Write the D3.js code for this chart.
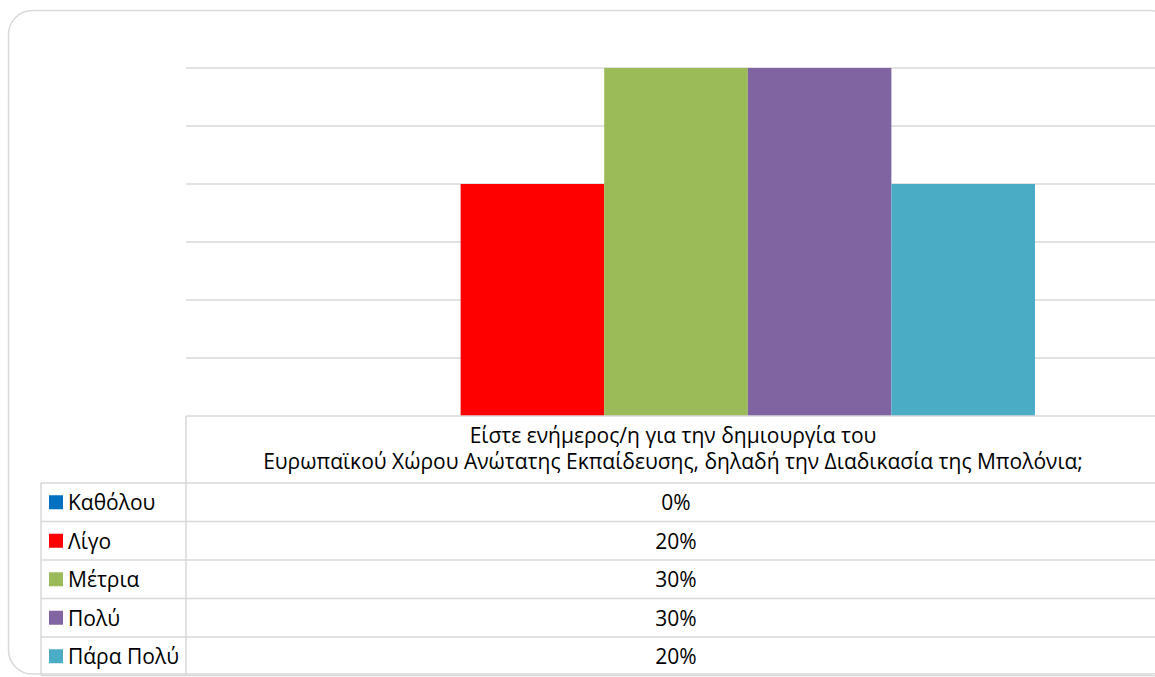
<!DOCTYPE html>
<html>
<head>
<meta charset="utf-8">
<script src="https://cdn.jsdelivr.net/npm/d3@7"></script>
<style>
  html, body { margin: 0; padding: 0; background: #fff; }
  svg { display: block; }
  text { font-family: "Open Sans", "Noto Sans", sans-serif; fill: #000; }
</style>
</head>
<body>
<svg id="chart" width="1155" height="677"></svg>
<script>
// Survey answers (one category, five response series)
const category = "Είστε ενήμερος/η για την δημιουργία του\nΕυρωπαϊκού Χώρου Ανώτατης Εκπαίδευσης, δηλαδή την Διαδικασία της Μπολόνια;";
const seriesNames = ["Καθόλου", "Λίγο", "Μέτρια", "Πολύ", "Πάρα Πολύ"];
const seriesValues = [0, 0.20, 0.30, 0.30, 0.20];
const seriesColors = ["#0070C0", "#FF0000", "#9BBB59", "#8064A2", "#4BACC6"];
const yTicks = [0.05, 0.10, 0.15, 0.20, 0.25, 0.30];

const svg = d3.select("#chart");
const lineColor = "#d9d9d9";
const fontSize = 21;

// outer rounded frame
svg.append("rect")
  .attr("x", 8.5).attr("y", 10.5)
  .attr("width", 1165).attr("height", 663.5)
  .attr("rx", 24).attr("ry", 24)
  .attr("fill", "#fff")
  .attr("stroke", lineColor).attr("stroke-width", 1.5);

const plotLeft = 186, plotRight = 1166, plotTop = 68, plotBottom = 416;
const legendLeft = 41;
const headerBottom = 483;
const rowH = 38.5;

const x0 = d3.scaleBand().domain([category]).range([plotLeft, plotRight])
  .paddingInner(0).paddingOuter(0.1825);
const x1 = d3.scaleBand().domain(seriesNames).range([0, x0.bandwidth()]);
const y = d3.scaleLinear().domain([0, 0.30]).range([plotBottom, plotTop]);

// horizontal gridlines
svg.append("g").selectAll("line").data(yTicks).join("line")
  .attr("x1", plotLeft).attr("x2", plotRight)
  .attr("y1", d => y(d)).attr("y2", d => y(d))
  .attr("stroke", lineColor).attr("stroke-width", 1.5);

// bars
svg.append("g").selectAll("rect").data(seriesNames).join("rect")
  .attr("x", (d) => x0(category) + x1(d))
  .attr("width", x1.bandwidth())
  .attr("y", (d, i) => y(seriesValues[i]))
  .attr("height", (d, i) => y(0) - y(seriesValues[i]))
  .attr("fill", (d, i) => seriesColors[i]);

// data table grid
const tbl = svg.append("g").attr("stroke", lineColor).attr("stroke-width", 1.5);
const tableBottom = headerBottom + rowH * seriesNames.length;
tbl.append("line").attr("x1", plotLeft).attr("x2", plotRight).attr("y1", plotBottom).attr("y2", plotBottom);
tbl.append("line").attr("x1", plotLeft).attr("x2", plotLeft).attr("y1", plotBottom).attr("y2", tableBottom);
tbl.append("line").attr("x1", legendLeft).attr("x2", legendLeft).attr("y1", headerBottom).attr("y2", tableBottom);
tbl.selectAll("line.row").data(d3.range(seriesNames.length + 1)).join("line")
  .attr("class", "row")
  .attr("x1", legendLeft).attr("x2", plotRight)
  .attr("y1", i => headerBottom + i * rowH).attr("y2", i => headerBottom + i * rowH);

// category header (two lines)
const cx = x0(category) + x0.bandwidth() / 2;
const headerLines = category.split("\n");
svg.append("text")
  .attr("text-anchor", "middle")
  .attr("font-size", fontSize)
  .selectAll("tspan").data(headerLines).join("tspan")
  .attr("x", cx - 3)
  .attr("y", (d, i) => 443 + i * 26)
  .text(d => d);

// rows: legend key, series name, value
const fmt = d3.format(".0%");
const rows = svg.append("g").selectAll("g").data(seriesNames).join("g")
  .attr("transform", (d, i) => `translate(0,${headerBottom + i * rowH})`);
rows.append("rect")
  .attr("x", 49).attr("y", rowH / 2 - 7)
  .attr("width", 14).attr("height", 14)
  .attr("fill", (d, i) => seriesColors[i]);
rows.append("text")
  .attr("x", 68).attr("y", 27)
  .attr("font-size", fontSize)
  .text(d => d);
rows.append("text")
  .attr("x", cx).attr("y", 27)
  .attr("text-anchor", "middle")
  .attr("font-size", fontSize)
  .text((d, i) => fmt(seriesValues[i]));
</script>
</body>
</html>
